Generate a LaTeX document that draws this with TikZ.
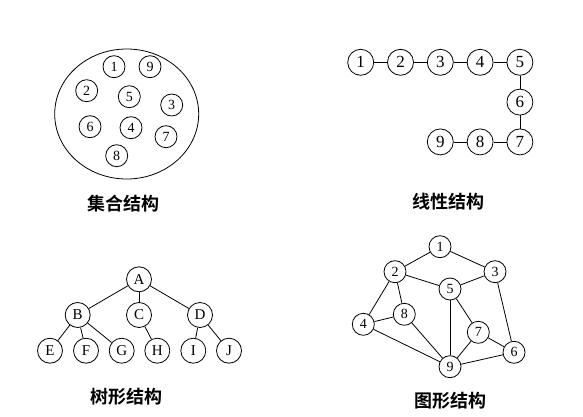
\documentclass[tikz,border=0pt]{standalone}
\usepackage{fontspec}
\setmainfont{Liberation Serif}
\newfontfamily\cjk{Noto Sans CJK SC}[BoldFont={* Bold}]
\usetikzlibrary{positioning}
\begin{document}
\begin{tikzpicture}[x=1pt,y=-1pt,node distance=13pt]
	\tikzset{elem/.style={draw,circle,line width=0.8pt,inner sep=0pt,minimum size=22pt,font=\fontsize{14}{14}\selectfont}}
	\tikzset{vert/.style={elem,minimum size=26pt,font=\fontsize{17}{17}\selectfont}}
	\tikzset{title/.style={font=\cjk\bfseries\fontsize{18}{18}\selectfont}}
	\useasboundingbox (0,0) rectangle (583,417);

	% set
	\draw[line width=0.8pt] (126.7,114) ellipse [x radius=72, y radius=65];
	\node[elem]	(s1) at (114,66.7)		{1};
	\node[elem]	(s9) at (150,66.7)		{9};
	\node[elem]	(s2) at (86.7,90.7)		{2};
	\node[elem]	(s5) at (129.3,96.7)	{5};
	\node[elem]	(s3) at (171.7,105)		{3};
	\node[elem]	(s6) at (90,126.7)		{6};
	\node[elem]	(s4) at (131,127.7)		{4};
	\node[elem]	(s7) at (166,136.7)		{7};
	\node[elem]	(s8) at (116.7,155.7)	{8};
	\node[title] (tset) at (123.3,204) {集合结构};

	% linear
	\node[vert]	(l1) at (360.7,62.3)	{1};
	\node[vert]	(l2) [right=of l1]		{2};
	\node[vert]	(l3) [right=of l2]		{3};
	\node[vert]	(l4) [right=of l3]		{4};
	\node[vert]	(l5) [right=of l4]		{5};
	\node[vert]	(l6) [below=of l5]		{6};
	\node[vert]	(l7) [below=of l6]		{7};
	\node[vert]	(l8) [left=of l7]		{8};
	\node[vert]	(l9) [left=of l8]		{9};
	\node[title] (tlin) at (448.3,201.7) {线性结构};

	\path[line width=0.8pt]
		(l1) edge (l2)
		(l2) edge (l3)
		(l3) edge (l4)
		(l4) edge (l5)
		(l5) edge (l6)
		(l6) edge (l7)
		(l7) edge (l8)
		(l8) edge (l9)
		;

	% tree
	\tikzset{leaf/.style={elem,minimum size=25pt,font=\fontsize{15}{15}\selectfont}}
	\node[leaf]	(A) at (139,279.3)		{A};
	\node[leaf]	(B) at (77.7,315)		{B};
	\node[leaf]	(C) at (139,315)		{C};
	\node[leaf]	(D) at (200,315)		{D};
	\node[leaf]	(E) at (50,350.7)		{E};
	\node[leaf]	(F) at (86,350.7)		{F};
	\node[leaf]	(G) at (121.7,350.7)	{G};
	\node[leaf]	(H) at (157.3,350.7)	{H};
	\node[leaf]	(I) at (193.3,350.7)	{I};
	\node[leaf]	(J) at (229,350.7)		{J};
	\node[title] (ttree) at (126.7,397) {树形结构};

	\path[line width=0.8pt]
		(A) edge (B)
		(A) edge (C)
		(A) edge (D)
		(B) edge (E)
		(B) edge (F)
		(B) edge (G)
		(C) edge (H)
		(D) edge (I)
		(D) edge (J)
		;

	% graph
	\node[elem]	(g1) at (440,246.7)		{1};
	\node[elem]	(g2) at (395,271.7)		{2};
	\node[elem]	(g3) at (495,271.7)		{3};
	\node[elem]	(g5) at (450,289)		{5};
	\node[elem]	(g8) at (404.3,314.3)	{8};
	\node[elem]	(g4) at (363.3,324.3)	{4};
	\node[elem]	(g7) at (478.3,332.3)	{7};
	\node[elem]	(g6) at (514,352.3)		{6};
	\node[elem]	(g9) at (450,366.7)		{9};
	\node[title] (tgraph) at (450,400.5) {图形结构};

	\path[line width=0.8pt]
		(g1) edge (g2)
		(g1) edge (g3)
		(g2) edge (g5)
		(g3) edge (g5)
		(g2) edge (g4)
		(g2) edge (g8)
		(g4) edge (g8)
		(g4) edge (g9)
		(g8) edge (g9)
		(g5) edge (g9)
		(g5) edge (g7)
		(g7) edge (g9)
		(g7) edge (g6)
		(g3) edge (g6)
		(g9) edge (g6)
		;
\end{tikzpicture}
\end{document}
